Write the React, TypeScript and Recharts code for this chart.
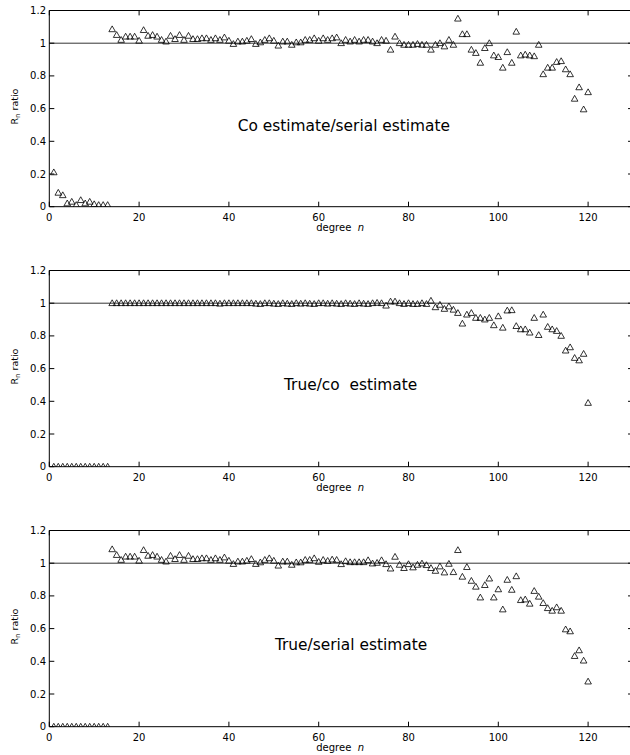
import React from 'react';
import { ScatterChart, Scatter, XAxis, YAxis, ReferenceLine, ReferenceDot } from 'recharts';

// degree n (categories)
const degrees: number[] = Array.from({ length: 120 }, (_, i) => i + 1);

const xTicks = [0, 20, 40, 60, 80, 100, 120];
const yTicks = [0, 0.2, 0.4, 0.6, 0.8, 1, 1.2];
const X_MAX = 130;
const Y_MAX = 1.2;

// Panel 1: Co estimate / serial estimate
const coSerial: number[] = [
  0.21, 0.085, 0.07, 0.02, 0.03, 0.01, 0.04, 0.02, 0.03, 0.015, 0.01, 0.01, 0.01,
  1.085, 1.05, 1.02, 1.04, 1.04, 1.04, 1.015, 1.08, 1.045, 1.05,
  1.04, 1.02, 1.01, 1.045, 1.025, 1.05, 1.02, 1.045, 1.025, 1.025,
  1.03, 1.03, 1.02, 1.03, 1.02, 1.035, 1.015, 0.995, 1.01, 1.01,
  1.015, 1.025, 0.995, 1.005, 1.02, 1.03, 1.015, 0.985, 1.01, 1.01,
  0.99, 1.005, 1.005, 1.02, 1.02, 1.03, 1.015, 1.03, 1.02, 1.03,
  1.035, 1.0, 1.02, 1.01, 1.02, 1.01, 1.02, 1.02, 1.01, 1.0,
  1.02, 1.015, 0.96, 1.04, 1.0, 0.99, 0.99, 0.99, 0.995, 0.99,
  0.99, 0.96, 0.99, 1.0, 0.98, 1.02, 0.99, 1.15, 1.055, 1.055,
  0.96, 0.94, 0.88, 0.97, 1.0, 0.925, 0.915, 0.85, 0.945, 0.88,
  1.07, 0.925, 0.93, 0.925, 0.92, 0.99, 0.81, 0.85, 0.85, 0.885,
  0.89, 0.84, 0.81, 0.66, 0.73, 0.595, 0.7,
];

// Panel 2: True / co estimate
const trueCo: number[] = [
  0, 0, 0, 0, 0, 0, 0, 0, 0, 0, 0, 0, 0,
  1.0, 1.0, 1.0, 1.0, 1.0, 1.0, 1.0, 1.0, 1.0, 1.0,
  1.0, 1.0, 1.0, 1.0, 1.0, 1.0, 1.0, 1.0, 1.0, 1.0,
  1.0, 1.0, 1.0, 1.0, 0.997, 1.0, 1.0, 1.0, 1.0, 1.0,
  1.0, 1.0, 0.997, 0.995, 1.0, 1.0, 0.997, 0.995, 1.0, 0.997,
  0.995, 1.0, 0.997, 1.0, 0.997, 0.995, 1.0, 1.0, 0.997, 1.0,
  0.997, 0.995, 1.0, 0.997, 0.995, 1.0, 0.997, 0.995, 1.0, 1.002,
  1.0, 0.985, 1.01, 1.01, 1.0, 0.995, 1.0, 0.995, 0.995, 1.0,
  0.995, 1.015, 0.975, 0.99, 0.965, 0.98, 0.96, 0.94, 0.875, 0.93,
  0.94, 0.91, 0.91, 0.9, 0.91, 0.865, 0.92, 0.85, 0.955, 0.957,
  0.86, 0.84, 0.84, 0.82, 0.91, 0.805, 0.93, 0.855, 0.84, 0.83,
  0.8, 0.71, 0.73, 0.665, 0.65, 0.69, 0.39,
];

// Panel 3: True / serial estimate
const trueSerial: number[] = [
  0, 0, 0, 0, 0, 0, 0, 0, 0, 0, 0, 0, 0,
  1.085, 1.05, 1.02, 1.04, 1.04, 1.04, 1.015, 1.08, 1.045, 1.05,
  1.04, 1.02, 1.01, 1.045, 1.025, 1.05, 1.02, 1.045, 1.025, 1.025,
  1.03, 1.03, 1.02, 1.03, 1.02, 1.035, 1.015, 0.995, 1.01, 1.01,
  1.015, 1.025, 0.995, 1.005, 1.02, 1.03, 1.015, 0.985, 1.01, 1.01,
  0.99, 1.005, 1.005, 1.02, 1.02, 1.03,
  1.008, 1.02, 1.014, 1.022, 1.02, 0.994, 1.012, 1.006, 1.006, 1.006,
  1.006, 1.018, 0.998, 1.002, 1.018, 0.994, 0.967, 1.039, 0.99, 0.97,
  0.994, 0.974, 0.99, 0.998, 0.988, 0.97, 0.953, 0.98, 0.943, 0.996,
  0.945, 1.08, 0.917, 0.976, 0.892, 0.856, 0.79, 0.866, 0.906, 0.79,
  0.84, 0.717, 0.898, 0.837, 0.92, 0.774, 0.778, 0.752, 0.83, 0.795,
  0.756, 0.725, 0.709, 0.73, 0.709, 0.595, 0.583, 0.432, 0.467, 0.404, 0.276,
];

const FONT = 'DejaVu Sans';
// inward tick lengths expressed in axis units (~5px)
const TICK_DY = 0.03;
const TICK_DX = 1.1;

const Tri = (props: any) => {
  const { cx, cy } = props;
  if (cx == null || cy == null) return <g />;
  return (
    <path
      d={`M${cx - 3.3},${cy + 2.4}L${cx + 3.3},${cy + 2.4}L${cx},${cy - 3.4}Z`}
      fill="none"
      stroke="#000"
      strokeWidth={0.8}
    />
  );
};

const XLabel = (props: any) => {
  const vb = props.viewBox || {};
  const x = (vb.x ?? 49.3) + (vb.width ?? 583.7) / 2 - 1;
  const y = (vb.y ?? 206.7) + 24;
  return (
    <text x={x} y={y} textAnchor="middle" fontSize={10} fontFamily={FONT} fill="#000" style={{ whiteSpace: 'pre' }}>
      {'degree  '}
      <tspan fontStyle="italic">n</tspan>
    </text>
  );
};

const YLabel = (props: any) => {
  const vb = props.viewBox || {};
  const cy = (vb.y ?? 10.5) + (vb.height ?? 196.2) / 2 - 2;
  const bx = 17.5;
  return (
    <text
      transform={`translate(${bx},${cy}) rotate(-90)`}
      x={0}
      y={0}
      textAnchor="middle"
      fontSize={9.5}
      fontFamily={FONT}
      fill="#000"
    >
      R
      <tspan dy={2.6} fontSize={7}>n</tspan>
      <tspan dy={-2.6}>{' ratio'}</tspan>
    </text>
  );
};

type PanelProps = {
  values: number[];
  title: string;
  titleX: number;
  titleY: number;
  top: number;
};

function Panel({ values, title, titleX, titleY, top }: PanelProps) {
  const data = degrees.map((n, i) => ({ n, v: values[i] }));
  const tickStyle = { fontSize: 10, fill: '#000', fontFamily: FONT };
  const TitleShape = (p: any) => (
    <text
      x={p.cx}
      y={p.cy}
      textAnchor="middle"
      dominantBaseline="central"
      fontSize={15.4}
      fontFamily={FONT}
      fill="#000"
      style={{ whiteSpace: 'pre' }}
    >
      {title}
    </text>
  );
  return (
    <div style={{ position: 'absolute', left: 0, top }}>
      <ScatterChart width={634} height={260} margin={{ top: 10.5, right: 1, bottom: 0, left: 0 }}>
        <XAxis
          xAxisId="b"
          dataKey="n"
          type="number"
          domain={[0, X_MAX]}
          ticks={xTicks}
          orientation="bottom"
          height={53.3}
          tickSize={-5}
          tickMargin={11.8}
          tick={tickStyle}
          axisLine={{ stroke: '#000', strokeWidth: 1 }}
          tickLine={{ stroke: '#000', strokeWidth: 1 }}
          allowDataOverflow
          interval={0}
          label={<XLabel />}
        />
        <YAxis
          yAxisId="l"
          dataKey="v"
          type="number"
          domain={[0, Y_MAX]}
          ticks={yTicks}
          width={49.3}
          tickSize={-5}
          tickMargin={8.3}
          tick={tickStyle}
          axisLine={{ stroke: '#000', strokeWidth: 1 }}
          tickLine={{ stroke: '#000', strokeWidth: 1 }}
          allowDataOverflow
          interval={0}
          label={<YLabel />}
        />
        {/* box frame: top and right borders with inward ticks */}
        <ReferenceLine xAxisId="b" yAxisId="l" y={Y_MAX} stroke="#000" strokeWidth={1} />
        <ReferenceLine xAxisId="b" yAxisId="l" x={X_MAX} stroke="#000" strokeWidth={1} />
        {xTicks.map((t) => (
          <ReferenceLine
            key={`tt${t}`}
            xAxisId="b"
            yAxisId="l"
            segment={[{ x: t, y: Y_MAX }, { x: t, y: Y_MAX - TICK_DY }]}
            stroke="#000"
            strokeWidth={1}
          />
        ))}
        {yTicks.map((t) => (
          <ReferenceLine
            key={`rt${t}`}
            xAxisId="b"
            yAxisId="l"
            segment={[{ x: X_MAX - TICK_DX, y: t }, { x: X_MAX, y: t }]}
            stroke="#000"
            strokeWidth={1}
          />
        ))}
        <ReferenceLine xAxisId="b" yAxisId="l" y={1} stroke="#000" strokeWidth={0.8} />
        <Scatter xAxisId="b" yAxisId="l" data={data} dataKey="v" shape={Tri} isAnimationActive={false} />
        <ReferenceDot xAxisId="b" yAxisId="l" x={titleX} y={titleY} r={0} shape={TitleShape} />
      </ScatterChart>
    </div>
  );
}

export default function App() {
  return (
    <div
      style={{
        position: 'absolute',
        left: 0,
        top: 0,
        width: 630,
        height: 755,
        overflow: 'hidden',
        background: '#fff',
      }}
    >
      <Panel values={coSerial} title="Co estimate/serial estimate" titleX={65.6} titleY={0.495} top={0} />
      <Panel values={trueCo} title="True/co  estimate" titleX={67.1} titleY={0.5} top={260} />
      <Panel values={trueSerial} title="True/serial estimate" titleX={67.2} titleY={0.5} top={520} />
    </div>
  );
}
